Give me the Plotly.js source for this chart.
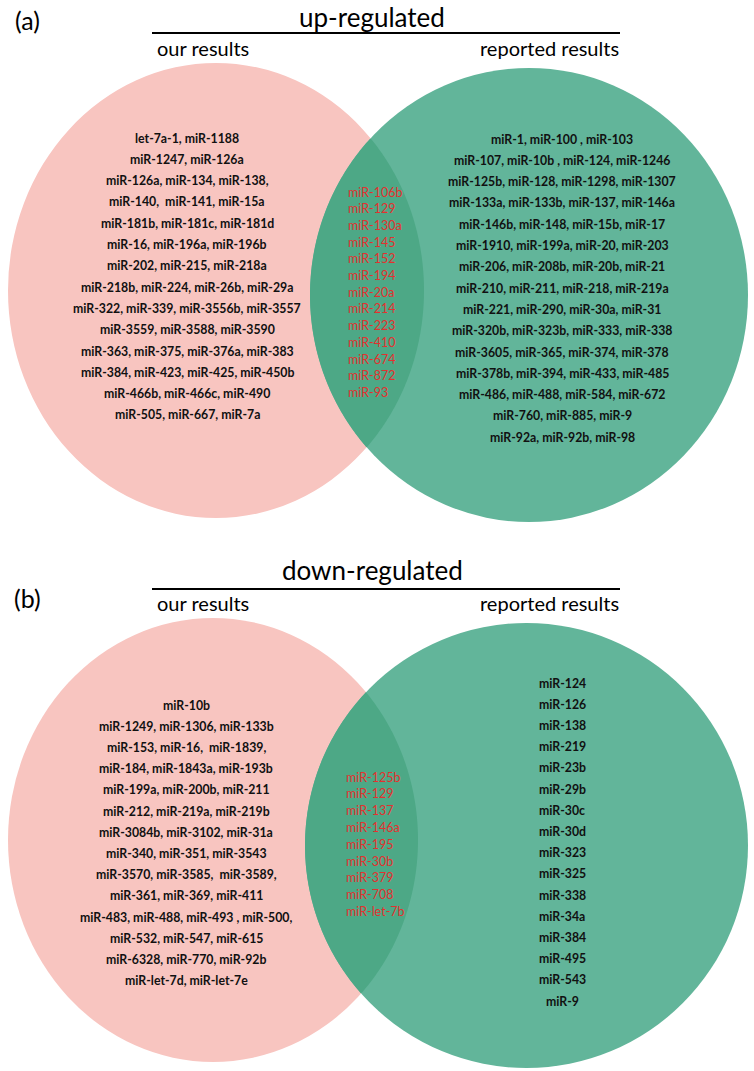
<!DOCTYPE html>
<html>
<head>
<meta charset="utf-8">
<script src="https://cdn.plot.ly/plotly-3.0.1.min.js"></script>
<style>html,body{margin:0;padding:0;background:#fff;}#chart{width:754px;height:1071px;}</style>
</head>
<body>
<div id="chart"></div>
<script>
// ---------- data ----------
const panelLabels = ["(a)", "(b)"];
const panelTitles = ["up-regulated", "down-regulated"];
const setNames = ["our results", "reported results"];

const upOurs = [
  "let-7a-1, miR-1188",
  "miR-1247, miR-126a",
  "miR-126a, miR-134, miR-138,",
  "miR-140,  miR-141, miR-15a",
  "miR-181b, miR-181c, miR-181d",
  "miR-16, miR-196a, miR-196b",
  "miR-202, miR-215, miR-218a",
  "miR-218b, miR-224, miR-26b, miR-29a",
  "miR-322, miR-339, miR-3556b, miR-3557",
  "miR-3559, miR-3588, miR-3590",
  "miR-363, miR-375, miR-376a, miR-383",
  "miR-384, miR-423, miR-425, miR-450b",
  "miR-466b, miR-466c, miR-490",
  "miR-505, miR-667, miR-7a"
];
const upCommon = ["miR-106b","miR-129","miR-130a","miR-145","miR-152","miR-194","miR-20a",
  "miR-214","miR-223","miR-410","miR-674","miR-872","miR-93"];
const upReported = [
  "miR-1, miR-100 , miR-103",
  "miR-107, miR-10b , miR-124, miR-1246",
  "miR-125b, miR-128, miR-1298, miR-1307",
  "miR-133a, miR-133b, miR-137, miR-146a",
  "miR-146b, miR-148, miR-15b, miR-17",
  "miR-1910, miR-199a, miR-20, miR-203",
  "miR-206, miR-208b, miR-20b, miR-21",
  "miR-210, miR-211, miR-218, miR-219a",
  "miR-221, miR-290, miR-30a, miR-31",
  "miR-320b, miR-323b, miR-333, miR-338",
  "miR-3605, miR-365, miR-374, miR-378",
  "miR-378b, miR-394, miR-433, miR-485",
  "miR-486, miR-488, miR-584, miR-672",
  "miR-760, miR-885, miR-9",
  "miR-92a, miR-92b, miR-98"
];
const downOurs = [
  "miR-10b",
  "miR-1249, miR-1306, miR-133b",
  "miR-153, miR-16,  miR-1839,",
  "miR-184, miR-1843a, miR-193b",
  "miR-199a, miR-200b, miR-211",
  "miR-212, miR-219a, miR-219b",
  "miR-3084b, miR-3102, miR-31a",
  "miR-340, miR-351, miR-3543",
  "miR-3570, miR-3585,  miR-3589,",
  "miR-361, miR-369, miR-411",
  "miR-483, miR-488, miR-493 , miR-500,",
  "miR-532, miR-547, miR-615",
  "miR-6328, miR-770, miR-92b",
  "miR-let-7d, miR-let-7e"
];
const downCommon = ["miR-125b","miR-129","miR-137","miR-146a","miR-195","miR-30b","miR-379","miR-708","miR-let-7b"];
const downReported = ["miR-124","miR-126","miR-138","miR-219","miR-23b","miR-29b","miR-30c","miR-30d",
  "miR-323","miR-325","miR-338","miR-34a","miR-384","miR-495","miR-543","miR-9"];

// ---------- layout constants ----------
const W = 754, H = 1071;
const PINK = "#F8C5C0", GREEN = "#62B59A", LENS = "#4DA886", RED = "#E3312F", INK = "#111111";
const FONT = "Lato, 'Open Sans', sans-serif";

const panels = [
  { label: panelLabels[0], title: panelTitles[0], labelY: 20, titleY: 17, ruleY: 33, namesY: 48,
    pink: {x0: 8, x1: 424, y0: 63, y1: 518}, green: {x0: 310, x1: 748, y0: 68, y1: 522},
    ours: upOurs, common: upCommon, reported: upReported,
    oursX: 187, oursY: 138, oursDy: 21.3,
    commonX: 346, commonY: 192, commonDy: 16.7,
    repX: 562, repY: 139, repDy: 21.3 },
  { label: panelLabels[1], title: panelTitles[1], labelY: 598, titleY: 570, ruleY: 589, namesY: 603,
    pink: {x0: 8, x1: 418, y0: 618, y1: 1062}, green: {x0: 305, x1: 748, y0: 623, y1: 1068},
    ours: downOurs, common: downCommon, reported: downReported,
    oursX: 186, oursY: 705, oursDy: 21.2,
    commonX: 344, commonY: 777, commonDy: 16.8,
    repX: 562, repY: 683, repDy: 21.2 }
];

function ellipsePts(e, n) {
  const cx = (e.x0 + e.x1) / 2, cy = (e.y0 + e.y1) / 2, rx = (e.x1 - e.x0) / 2, ry = (e.y1 - e.y0) / 2;
  const pts = [];
  for (let i = 0; i < n; i++) { const t = 2 * Math.PI * i / n; pts.push([cx + rx * Math.cos(t), cy + ry * Math.sin(t)]); }
  return pts;
}
function inside(e, p) {
  const cx = (e.x0 + e.x1) / 2, cy = (e.y0 + e.y1) / 2, rx = (e.x1 - e.x0) / 2, ry = (e.y1 - e.y0) / 2;
  const dx = (p[0] - cx) / rx, dy = (p[1] - cy) / ry;
  return dx * dx + dy * dy <= 1;
}
function lensPath(a, b) {
  let pts = ellipsePts(a, 720).filter(p => inside(b, p)).concat(ellipsePts(b, 720).filter(p => inside(a, p)));
  const mx = pts.reduce((s, p) => s + p[0], 0) / pts.length, my = pts.reduce((s, p) => s + p[1], 0) / pts.length;
  pts.sort((p, q) => Math.atan2(p[1] - my, p[0] - mx) - Math.atan2(q[1] - my, q[0] - mx));
  return "M" + pts.map(p => p[0].toFixed(2) + "," + p[1].toFixed(2)).join("L") + "Z";
}

const shapes = [], annotations = [];
panels.forEach(P => {
  shapes.push({type: "circle", xref: "x", yref: "y", x0: P.pink.x0, x1: P.pink.x1, y0: P.pink.y0, y1: P.pink.y1,
    fillcolor: PINK, line: {width: 0}, layer: "below"});
  shapes.push({type: "circle", xref: "x", yref: "y", x0: P.green.x0, x1: P.green.x1, y0: P.green.y0, y1: P.green.y1,
    fillcolor: GREEN, line: {width: 0}, layer: "below"});
  shapes.push({type: "path", xref: "x", yref: "y", path: lensPath(P.pink, P.green), fillcolor: LENS, line: {width: 0}, layer: "below"});
  shapes.push({type: "line", xref: "x", yref: "y", x0: 152, x1: 620, y0: P.ruleY, y1: P.ruleY, line: {color: "#000", width: 2.2}});

  annotations.push({x: 27, y: P.labelY, text: P.label, showarrow: false, xanchor: "center", yanchor: "middle",
    font: {family: FONT, size: 25, color: "#000"}});
  annotations.push({x: 372, y: P.titleY, text: P.title, showarrow: false, xanchor: "center", yanchor: "middle",
    font: {family: FONT, size: 26, color: "#000"}});
  annotations.push({x: 155, y: P.namesY, text: setNames[0], showarrow: false, xanchor: "left", yanchor: "middle",
    font: {family: FONT, size: 20, color: "#000"}});
  annotations.push({x: 621, y: P.namesY, text: setNames[1], showarrow: false, xanchor: "right", yanchor: "middle",
    font: {family: FONT, size: 20, color: "#000"}});

  P.ours.forEach((t, i) => annotations.push({x: P.oursX, y: P.oursY + i * P.oursDy, text: "<b>" + t + "</b>", showarrow: false,
    xanchor: "center", yanchor: "middle", font: {family: FONT, size: 12.3, color: INK}}));
  P.reported.forEach((t, i) => annotations.push({x: P.repX, y: P.repY + i * P.repDy, text: "<b>" + t + "</b>", showarrow: false,
    xanchor: "center", yanchor: "middle", font: {family: FONT, size: 12.3, color: INK}}));
  P.common.forEach((t, i) => annotations.push({x: P.commonX, y: P.commonY + i * P.commonDy, text: t, showarrow: false,
    xanchor: "left", yanchor: "middle", font: {family: FONT, size: 12.5, color: RED}}));
});

const layout = {
  width: W, height: H, margin: {l: 0, r: 0, t: 0, b: 0},
  paper_bgcolor: "#fff", plot_bgcolor: "#fff", showlegend: false,
  xaxis: {range: [0, W], visible: false, fixedrange: true},
  yaxis: {range: [H, 0], visible: false, fixedrange: true},
  shapes: shapes, annotations: annotations
};
Plotly.newPlot("chart", [{x: [], y: [], type: "scatter", mode: "markers", hoverinfo: "skip"}], layout,
  {staticPlot: true, displayModeBar: false});
</script>
</body>
</html>
